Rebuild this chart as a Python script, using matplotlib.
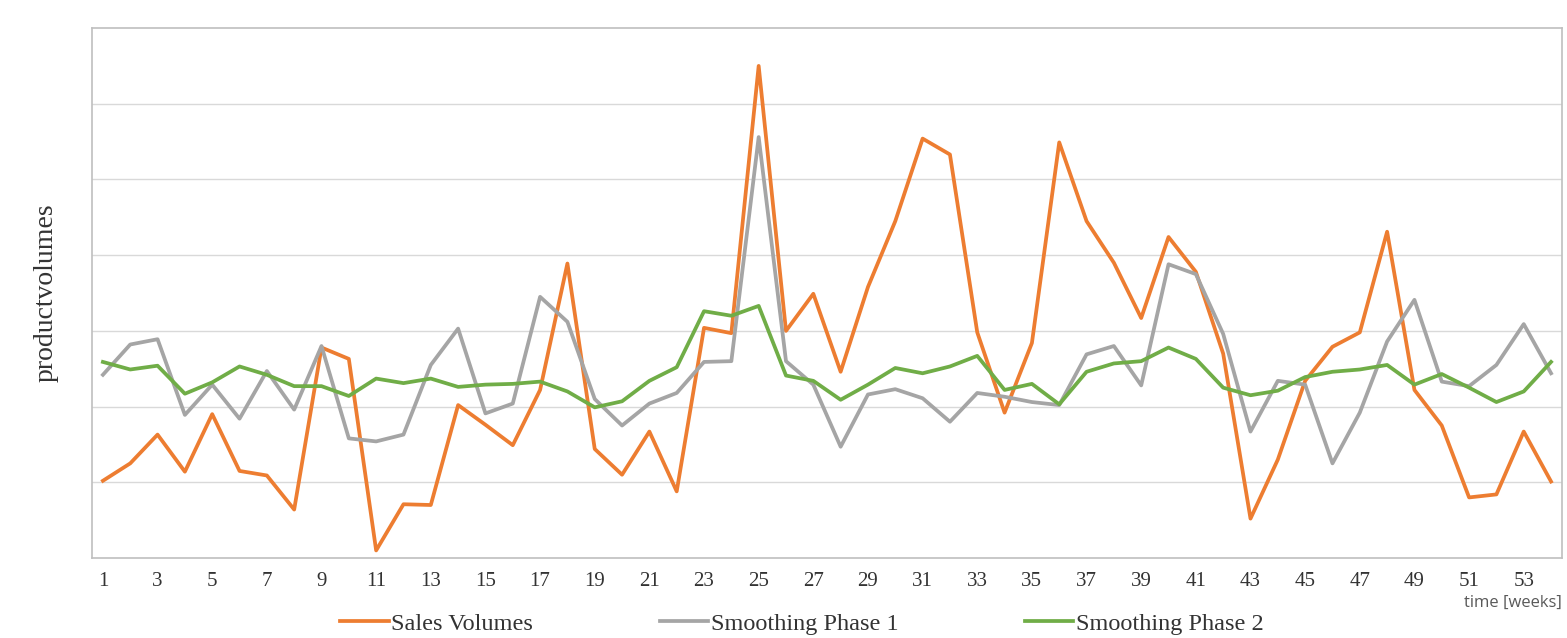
import numpy as np
import matplotlib.pyplot as plt

plt.rcParams['font.family'] = ['Liberation Serif', 'DejaVu Serif']

# Data (gridline spacing = 1 unit)
weeks = np.arange(1, 55)

sales_volumes = [
    1.02, 1.25, 1.63, 1.14, 1.90, 1.15, 1.09, 0.64, 2.78, 2.63,
    0.10, 0.71, 0.70, 2.02, 1.76, 1.49, 2.22, 3.89, 1.44, 1.10,
    1.67, 0.88, 3.04, 2.97, 6.50, 3.00, 3.49, 2.46, 3.58, 4.45,
    5.54, 5.33, 2.98, 1.92, 2.84, 5.49, 4.45, 3.90, 3.17, 4.24,
    3.78, 2.70, 0.52, 1.30, 2.34, 2.79, 2.98, 4.31, 2.22, 1.75,
    0.80, 0.84, 1.67, 1.01,
]
smoothing_1 = [
    2.42, 2.82, 2.89, 1.89, 2.29, 1.84, 2.47, 1.96, 2.80, 1.58,
    1.54, 1.63, 2.55, 3.03, 1.91, 2.04, 3.45, 3.12, 2.10, 1.75,
    2.04, 2.18, 2.59, 2.60, 5.56, 2.60, 2.29, 1.47, 2.16, 2.23,
    2.11, 1.80, 2.18, 2.13, 2.06, 2.02, 2.69, 2.80, 2.28, 3.88,
    3.75, 2.96, 1.67, 2.34, 2.29, 1.25, 1.92, 2.86, 3.41, 2.33,
    2.27, 2.55, 3.09, 2.44,
]
smoothing_2 = [
    2.59, 2.49, 2.54, 2.17, 2.32, 2.53, 2.42, 2.27, 2.27, 2.14,
    2.37, 2.31, 2.37, 2.26, 2.29, 2.30, 2.33, 2.20, 1.99, 2.07,
    2.34, 2.52, 3.26, 3.20, 3.33, 2.41, 2.34, 2.09, 2.29, 2.51,
    2.44, 2.53, 2.67, 2.22, 2.30, 2.03, 2.46, 2.57, 2.60, 2.78,
    2.63, 2.25, 2.15, 2.21, 2.39, 2.46, 2.49, 2.55, 2.29, 2.43,
    2.25, 2.06, 2.20, 2.59,
]

fig = plt.figure(figsize=(15.67, 6.38), dpi=100)
ax = fig.add_axes([0.0587, 0.1254, 0.9381, 0.8306])

ax.plot(weeks, sales_volumes, color='#ED7D31', lw=2.7, label='Sales Volumes')
ax.plot(weeks, smoothing_1, color='#A5A5A5', lw=2.7, label='Smoothing Phase 1')
ax.plot(weeks, smoothing_2, color='#70AD47', lw=2.7, label='Smoothing Phase 2')

ax.set_xlim(0.6, 54.4)
ax.set_ylim(0, 7)
ax.set_yticks(np.arange(1, 7))
ax.set_yticklabels([])
ax.set_xticks(weeks[::2])
ax.tick_params(axis='both', length=0, labelsize=15, pad=10, labelcolor='#333333')
ax.grid(axis='y', color='#D9D9D9', lw=1)
ax.set_axisbelow(True)
for s in ax.spines.values():
    s.set_color('#BFBFBF')
    s.set_linewidth(1.2)

ax.set_ylabel('productvolumes', fontsize=20, labelpad=14, color='#333333')
fig.text(0.997, 0.055, 'time [weeks]', ha='right', va='center', fontsize=12,
         family='Open Sans', color='#595959')

ax.legend(loc='center', bbox_to_anchor=(0.483, -0.124), ncol=3, frameon=False,
          fontsize=17.5, handlelength=2.0, handletextpad=0.1, columnspacing=5.2,
          labelcolor='#333333', borderpad=0)

fig.savefig('out.png', dpi=100)
